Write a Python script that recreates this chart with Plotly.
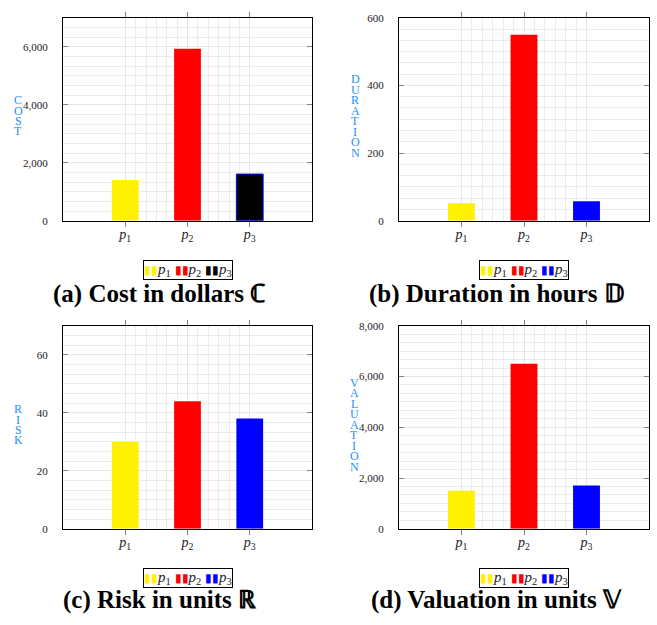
import plotly.graph_objects as go

# ---- data ----
categories = ["p1", "p2", "p3"]
tick_labels = ["<i>p</i><sub>1</sub>", "<i>p</i><sub>2</sub>", "<i>p</i><sub>3</sub>"]
cost = [1410, 5930, 1610]
duration = [52, 550, 58]
risk = [30, 44, 38]
valuation = [1500, 6500, 1700]

W, H = 657, 625
YEL, RED, BLU, BLK = "#FFF200", "#FF0000", "#0000FF", "#000000"
LBL = "#1E90FF"
SERIF = "Liberation Serif"

panels = [
    dict(vals=cost, label="COST", title="(a) Cost in dollars \u2102", ymax=7000, dtick=2000,
         fills=[YEL, RED, BLK], lines=[YEL, RED, BLU],
         px=(63, 312), py=(12, 219), lab_x=18, lab_y=112, pitch=10.5, tx=159, ty=294, ly=269),
    dict(vals=duration, label="DURATION", title="(b) Duration in hours \U0001D53B", ymax=600, dtick=200,
         fills=[YEL, RED, BLU], lines=[YEL, RED, BLU],
         px=(399, 649), py=(12, 219), lab_x=355, lab_y=112, pitch=10.7, tx=496, ty=294, ly=269),
    dict(vals=risk, label="RISK", title="(c) Risk in units \u211D", ymax=70, dtick=20,
         fills=[YEL, RED, BLU], lines=[YEL, RED, BLU],
         px=(63, 312), py=(326, 533), lab_x=18, lab_y=427, pitch=10.5, tx=160, ty=606, ly=583.5),
    dict(vals=valuation, label="VALUATION", title="(d) Valuation in units \U0001D54D", ymax=8000, dtick=2000,
         fills=[YEL, RED, BLU], lines=[YEL, RED, BLU],
         px=(399, 649), py=(326, 533), lab_x=354, lab_y=427, pitch=10.7, tx=496, ty=606, ly=583.5),
]

fig = go.Figure()
annotations = []
xpos = [i + 1 for i in range(len(categories))]
minor_x = [1 + k / 6 for k in range(1, 6 * (len(categories) - 1)) if k % 6 != 0]

for n, p in enumerate(panels):
    sfx = "" if n == 0 else str(n + 1)
    for i, cat in enumerate(categories):
        fig.add_trace(go.Bar(
            x=[xpos[i]], y=[p["vals"][i]], width=0.43, name=cat, showlegend=False,
            marker=dict(color=p["fills"][i],
                        line=dict(color=p["lines"][i], width=1 if p["fills"][i] != p["lines"][i] else 0)),
            xaxis="x" + sfx, yaxis="y" + sfx,
        ))
    x0, x1 = p["px"]
    y0, y1 = p["py"]
    xa = dict(domain=[x0 / W, x1 / W], range=[0, len(categories) + 1], anchor="y" + sfx,
              tickmode="array", tickvals=xpos, ticktext=tick_labels,
              ticks="outside", ticklen=5, tickcolor="#808080", tickwidth=1,
              showline=True, linecolor="black", linewidth=1, mirror="ticks",
              showgrid=True, gridcolor="#e6e6e6", gridwidth=1, zeroline=False,
              ticklabelstandoff=-5,
              tickfont=dict(family=SERIF, size=14, color="#222"),
              minor=dict(tickmode="array", tickvals=minor_x, showgrid=True,
                         gridcolor="#ececec", gridwidth=1, ticks=""),
              fixedrange=True)
    ya = dict(domain=[1 - y1 / H, 1 - y0 / H], range=[0, p["ymax"]], anchor="x" + sfx,
              dtick=p["dtick"], tick0=0, tickformat=",",
              ticks="inside", ticklen=5, tickcolor="#808080", tickwidth=1,
              showline=True, linecolor="black", linewidth=1, mirror="ticks",
              showgrid=True, gridcolor="#e6e6e6", gridwidth=1, zeroline=False,
              ticklabelstandoff=12,
              tickfont=dict(family=SERIF, size=11, color="#222"),
              minor=dict(dtick=p["dtick"] / 6, tick0=0, showgrid=True,
                         gridcolor="#ececec", gridwidth=1, ticks=""),
              fixedrange=True)
    fig.update_layout(**{"xaxis" + sfx: xa, "yaxis" + sfx: ya})

    # stacked (upright) axis label letters, tightly spaced as in the reference
    lab = p["label"]
    for k, ch in enumerate(lab):
        yc = p["lab_y"] + (k - (len(lab) - 1) / 2) * p["pitch"]
        annotations.append(dict(x=p["lab_x"] / W, y=1 - yc / H, xref="paper", yref="paper",
                                text=ch, showarrow=False, xanchor="center", yanchor="middle",
                                height=10, borderpad=0,
                                font=dict(family=SERIF, size=12, color=LBL)))

    # legend box
    parts = []
    for i in range(len(categories)):
        parts.append("<span style='color:%s;font-size:12px'>\u25AE\u25AE</span>%s" % (p["fills"][i], tick_labels[i]))
    annotations.append(dict(x=(x0 + x1) / 2 / W, y=1 - p["ly"] / H, xref="paper", yref="paper",
                            text=" ".join(parts), showarrow=False, xanchor="center", yanchor="middle",
                            bordercolor="black", borderwidth=1, borderpad=0, bgcolor="white",
                            font=dict(family=SERIF, size=15, color="#222")))
    # caption
    annotations.append(dict(x=p["tx"] / W, y=1 - p["ty"] / H, xref="paper", yref="paper",
                            text="<b>%s</b>" % p["title"], showarrow=False,
                            xanchor="center", yanchor="middle",
                            font=dict(family=SERIF, size=25, color="black")))

fig.update_layout(width=W, height=H, margin=dict(l=0, r=0, t=0, b=0),
                  paper_bgcolor="white", plot_bgcolor="white",
                  barmode="overlay", showlegend=False, annotations=annotations)

fig.write_html("out.html", config={"displayModeBar": False})
